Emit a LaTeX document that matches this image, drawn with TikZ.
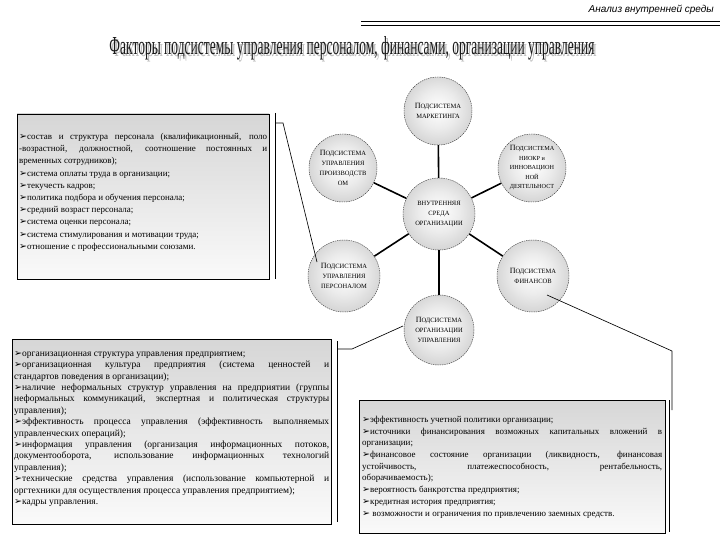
\documentclass[tikz,border=0pt]{standalone}
\usepackage{fontspec}
\setmainfont{Liberation Serif}
\newfontfamily\hdrfont{Liberation Sans}
\newfontfamily\dvfont{DejaVu Sans}
\newcommand\bul{{\dvfont\fontsize{9.5}{8}\selectfont ➢}}
\newcommand\podsys{{\fontsize{8}{9.5}\selectfont П}ОДСИСТЕМА}
\newcommand\titletext{\resizebox{485pt}{18pt}{Факторы подсистемы управления персоналом, финансами, организации управления}}
\pgfdeclareradialshading{circshade}{\pgfpoint{0bp}{2bp}}{color(0bp)=(white); color(14bp)=(gray!15); color(36bp)=(gray!48); color(50bp)=(gray!62)}
\tikzset{
  sub/.style={circle, minimum size=70pt, inner sep=0pt, shading=circshade,
    draw=black!75, dash pattern=on 1.4pt off 0.9pt, line width=0.45pt,
    align=center, font=\fontsize{6.5}{9.8}\selectfont},
  spoke/.style={line width=1.6pt, black},
  brk/.style={line width=0.65pt, black},
  fbox/.style={draw=black, line width=0.8pt, top color=gray!32, bottom color=gray!4},
  btext/.style={anchor=north west, inner sep=0pt, align=justify}
}
\hyphenpenalty=10000
\exhyphenpenalty=10000
\begin{document}
\begin{tikzpicture}[x=1pt,y=-1pt]
\useasboundingbox (0,0) rectangle (720,540);
\fill[white] (0,0) rectangle (720,540);

% header
\node[anchor=east, inner sep=0pt, font={\hdrfont\itshape\fontsize{10}{11}\selectfont}] (hdr) at (714,10) {Анализ внутренней среды};
\draw[line width=1pt] (361,21.5) -- (720,21.5);
\draw[line width=0.7pt] (361,25) -- (720,25);

% title
\node[anchor=base, inner sep=0pt, text=gray!50] (titleshadow) at (354,57) {\titletext};
\node[anchor=base, inner sep=0pt, text=black!90] (title) at (352,55) {\titletext};

% boxes
\path[fbox] (17,114) rectangle (269,279);
\node[btext, text width=248pt, font={\fontsize{9}{12.2}\selectfont}] (tl) at (19,133) {%
\bul состав и структура персонала (квалификационный, поло\linebreak -возрастной, должностной, соотношение постоянных и\linebreak временных сотрудников);\par
\bul система оплаты труда в организации;\par
\bul текучесть кадров;\par
\bul политика подбора и обучения персонала;\par
\bul средний возраст персонала;\par
\bul система оценки персонала;\par
\bul система стимулирования и мотивации труда;\par
\bul отношение с профессиональными союзами.};

\path[fbox] (12,339) rectangle (331,524);
\node[btext, text width=315pt, font={\fontsize{9.5}{11.4}\selectfont}] (bl) at (14,351) {%
\bul организационная структура управления предприятием;\par
\bul организационная культура предприятия (система ценностей и\linebreak стандартов поведения в организации);\par
\bul наличие неформальных структур управления на предприятии (группы\linebreak неформальных коммуникаций, экспертная и политическая структуры\linebreak управления);\par
\bul эффективность процесса управления (эффективность выполняемых\linebreak управленческих операций);\par
\bul информация управления (организация информационных потоков,\linebreak документооборота, использование информационных технологий\linebreak управления);\par
\bul технические средства управления (использование компьютерной и\linebreak оргтехники для осуществления процесса управления предприятием);\par
\bul кадры управления.};

\path[fbox] (359,400) rectangle (665,533);
\node[btext, text width=300pt, font={\fontsize{9}{11.7}\selectfont}] (br) at (362,416) {%
\bul эффективность учетной политики организации;\par
\bul источники финансирования возможных капитальных вложений в\linebreak организации;\par
\bul финансовое состояние организации (ликвидность, финансовая\linebreak устойчивость, платежеспособность, рентабельность,\linebreak оборачиваемость);\par
\bul вероятность банкротства предприятия;\par
\bul кредитная история предприятия;\par
\bul\ возможности и ограничения по привлечению заемных средств.};

% circles
\node[sub, minimum size=72pt] (c) at (439,214) {ВНУТРЕННЯЯ\\СРЕДА\\ОРГАНИЗАЦИИ};
\node[sub, minimum size=68pt] (m) at (438,111) {\podsys\\МАРКЕТИНГА};
\node[sub, minimum size=68pt] (p) at (343,168) {\podsys\\УПРАВЛЕНИЯ\\ПРОИЗВОДСТВ\\ОМ};
\node[sub, minimum size=68pt, font=\fontsize{6.2}{9.5}\selectfont] (n) at (532,168) {\podsys\\НИОКР и\\ИННОВАЦИОН\\НОЙ\\ДЕЯТЕЛЬНОСТ};
\node[sub, minimum size=72pt] (pe) at (344,276) {\podsys\\УПРАВЛЕНИЯ\\ПЕРСОНАЛОМ};
\node[sub, minimum size=72pt] (f) at (533,276) {\podsys\\ФИНАНСОВ};
\node[sub, minimum size=70pt] (o) at (439,330) {\podsys\\ОРГАНИЗАЦИИ\\УПРАВЛЕНИЯ};

\draw[spoke] (c) -- (m);
\draw[spoke] (c) -- (p);
\draw[spoke] (c) -- (n);
\draw[spoke] (c) -- (pe);
\draw[spoke] (c) -- (f);
\draw[spoke] (c) -- (o);

% brackets
\coordinate (l1) at (275,113);
\coordinate (l2) at (275,279);
\coordinate (l3) at (283,123);
\coordinate (l3a) at (275,123);
\coordinate (l4) at (317,262);
\draw[brk] (l1) -- (l2);
\draw[brk] (l3a) -- (l3) -- (l4);

\coordinate (b1) at (337,341);
\coordinate (b2) at (337,522);
\coordinate (b3) at (337,349);
\coordinate (b4) at (352,349);
\coordinate (b5) at (403,326);
\draw[brk] (b1) -- (b2);
\draw[brk] (b3) -- (b4) -- (b5);

\coordinate (r1) at (547,295);
\coordinate (r2) at (672,351);
\coordinate (r3) at (672,410);
\coordinate (r4) at (669.5,400);
\coordinate (r5) at (669.5,532);
\draw[brk] (r1) -- (r2) -- (r3);
\draw[brk] (r4) -- (r5);
\end{tikzpicture}
\end{document}
